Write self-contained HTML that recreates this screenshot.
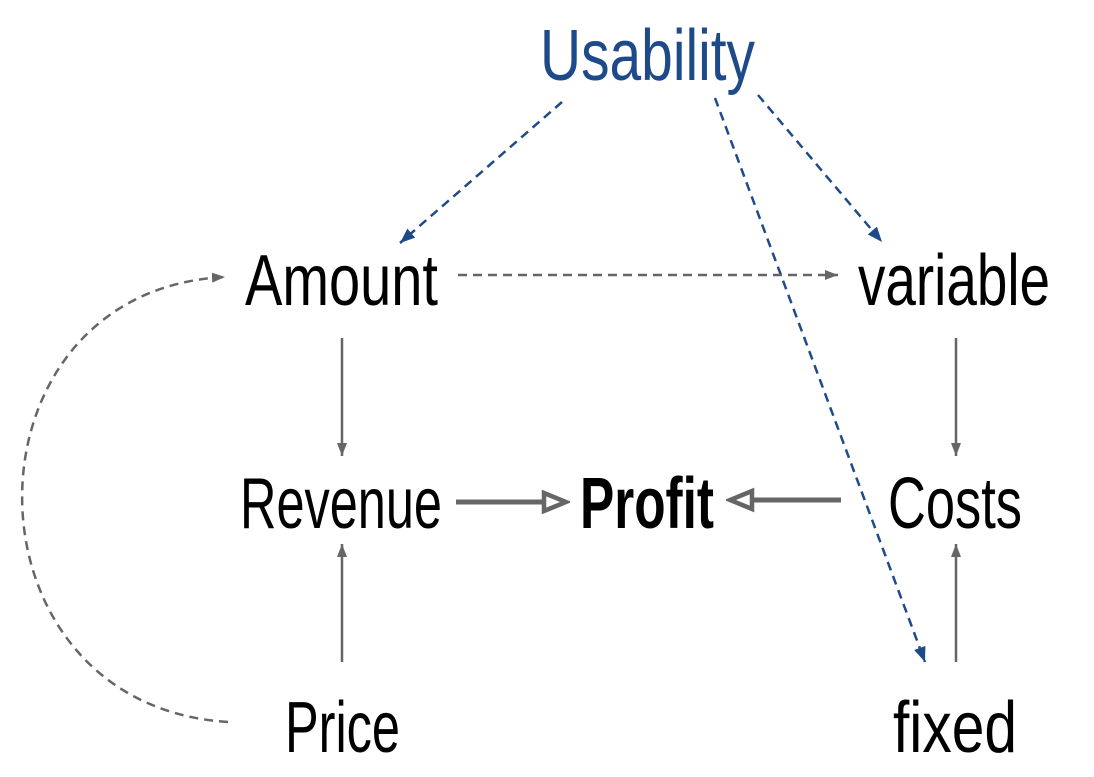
<!DOCTYPE html>
<html><head><meta charset="utf-8"><style>html,body{margin:0;padding:0;background:#fff;}svg{display:block}</style></head>
<body>
<svg width="1094" height="777" viewBox="0 0 1094 777" xmlns="http://www.w3.org/2000/svg">
<defs>
<marker id="ab" viewBox="0 0 16 16" refX="15" refY="8" markerWidth="16" markerHeight="16" orient="auto" markerUnits="userSpaceOnUse"><path d="M0,2 L15,8 L0,14 z" fill="#1f4a8a" stroke="none"/></marker>
<marker id="ag" viewBox="0 0 14 14" refX="13" refY="7" markerWidth="14" markerHeight="14" orient="auto" markerUnits="userSpaceOnUse"><path d="M0,2 L13,7 L0,12 z" fill="#666" stroke="none"/></marker>
<marker id="ah" viewBox="0 0 30 30" refX="26" refY="15" markerWidth="30" markerHeight="30" orient="auto" markerUnits="userSpaceOnUse"><path d="M4,6 L26,15 L4,24 z" fill="#fff" stroke="#666" stroke-width="4.5"/></marker>
</defs>
<g font-family="'Liberation Sans Narrow','Liberation Sans',sans-serif" font-size="72" fill="#000">
<text x="540" y="80" textLength="215" lengthAdjust="spacingAndGlyphs" fill="#1f4a8a">Usability</text>
<text x="245" y="305" textLength="193" lengthAdjust="spacingAndGlyphs">Amount</text>
<text x="858" y="305" textLength="192" lengthAdjust="spacingAndGlyphs">variable</text>
<text x="240" y="528" textLength="202" lengthAdjust="spacingAndGlyphs">Revenue</text>
<text x="580" y="528" textLength="134" lengthAdjust="spacingAndGlyphs" font-weight="bold">Profit</text>
<text x="888" y="528" textLength="134" lengthAdjust="spacingAndGlyphs">Costs</text>
<text x="285" y="752" textLength="115" lengthAdjust="spacingAndGlyphs">Price</text>
<text x="893" y="752" textLength="124" lengthAdjust="spacingAndGlyphs">fixed</text>
</g>
<g stroke="#1f4a8a" stroke-width="2.5" stroke-dasharray="9,6" fill="none" marker-end="url(#ab)">
<line x1="562" y1="102" x2="400" y2="243"/>
<line x1="758" y1="95" x2="882" y2="242"/>
<line x1="715" y1="98" x2="925" y2="662"/>
</g>
<g stroke="#666" stroke-width="2.5" fill="none">
<line x1="458" y1="275" x2="838" y2="275" stroke-dasharray="9,6" marker-end="url(#ag)"/>
<path d="M228,722 C-46,705 -46,290 225,277" stroke-dasharray="9,6" marker-end="url(#ag)"/>
<line x1="342" y1="338" x2="342" y2="456" marker-end="url(#ag)"/>
<line x1="956" y1="338" x2="956" y2="456" marker-end="url(#ag)"/>
<line x1="342" y1="662" x2="342" y2="544" marker-end="url(#ag)"/>
<line x1="956" y1="662" x2="956" y2="544" marker-end="url(#ag)"/>
<line x1="456" y1="502" x2="566" y2="502" stroke-width="5" marker-end="url(#ah)"/>
<line x1="841" y1="500" x2="730" y2="500" stroke-width="5" marker-end="url(#ah)"/>
</g>
</svg>
</body></html>
